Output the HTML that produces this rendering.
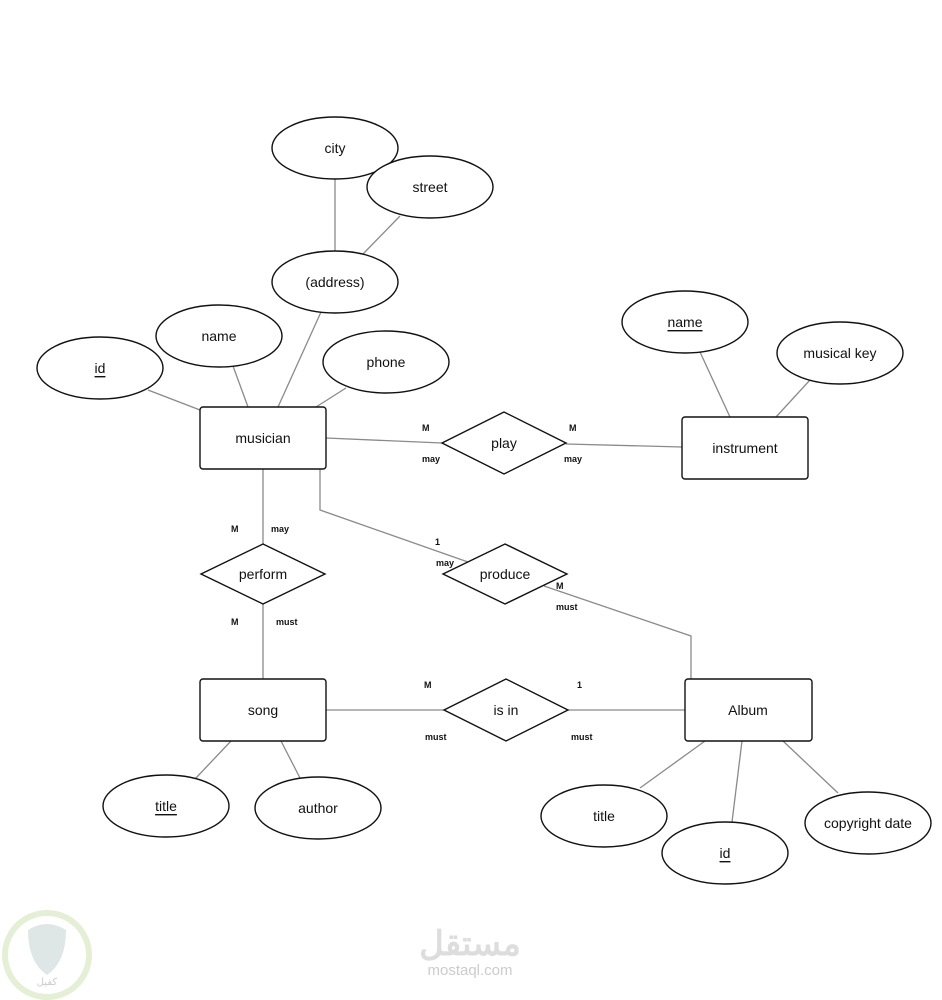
<!DOCTYPE html>
<html><head><meta charset="utf-8"><style>
html,body{margin:0;padding:0;background:#fff;}
svg{display:block;}
text{font-family:"Liberation Sans",Arial,sans-serif;}
.t{font-size:14px;fill:#111;text-anchor:middle;dominant-baseline:central;}
.s{font-size:9px;font-weight:bold;fill:#111;}
.l{stroke:#8a8a8a;stroke-width:1.3;fill:none;}
.e{fill:#fff;stroke:#111;stroke-width:1.4;}
</style></head><body>
<svg width="942" height="1000" viewBox="0 0 942 1000">
<!-- lines -->
<line class="l" x1="335" y1="178" x2="335" y2="252"/>
<line class="l" x1="400" y1="216" x2="363" y2="254"/>
<line class="l" x1="321" y1="312" x2="278" y2="407"/>
<line class="l" x1="233" y1="366" x2="248" y2="407"/>
<line class="l" x1="148" y1="390" x2="200" y2="410"/>
<line class="l" x1="346" y1="388" x2="316" y2="407"/>
<line class="l" x1="326" y1="438" x2="442" y2="443"/>
<line class="l" x1="566" y1="444" x2="682" y2="447"/>
<line class="l" x1="700" y1="352" x2="730" y2="417"/>
<line class="l" x1="810" y1="380" x2="776" y2="417"/>
<line class="l" x1="263" y1="469" x2="263" y2="544"/>
<line class="l" x1="263" y1="604" x2="263" y2="679"/>
<polyline class="l" points="320,469 320,510 468,562"/>
<polyline class="l" points="544,586 691,636 691,679"/>
<line class="l" x1="326" y1="710" x2="444" y2="710"/>
<line class="l" x1="568" y1="710" x2="685" y2="710"/>
<line class="l" x1="231" y1="741" x2="195" y2="779"/>
<line class="l" x1="281" y1="741" x2="300" y2="778"/>
<line class="l" x1="705" y1="741" x2="640" y2="788"/>
<line class="l" x1="742" y1="741" x2="732" y2="822"/>
<line class="l" x1="783" y1="741" x2="838" y2="793"/>
<!-- ellipses -->
<ellipse class="e" cx="335" cy="148" rx="63" ry="31"/><text class="t" x="335" y="148">city</text>
<ellipse class="e" cx="430" cy="187" rx="63" ry="31"/><text class="t" x="430" y="187">street</text>
<ellipse class="e" cx="335" cy="282" rx="63" ry="31"/><text class="t" x="335" y="282">(address)</text>
<ellipse class="e" cx="219" cy="336" rx="63" ry="31"/><text class="t" x="219" y="336">name</text>
<ellipse class="e" cx="100" cy="368" rx="63" ry="31"/><text class="t" x="100" y="368" text-decoration="underline">id</text>
<ellipse class="e" cx="386" cy="362" rx="63" ry="31"/><text class="t" x="386" y="362">phone</text>
<ellipse class="e" cx="685" cy="322" rx="63" ry="31"/><text class="t" x="685" y="322" text-decoration="underline">name</text>
<ellipse class="e" cx="840" cy="353" rx="63" ry="31"/><text class="t" x="840" y="353">musical key</text>
<ellipse class="e" cx="166" cy="806" rx="63" ry="31"/><text class="t" x="166" y="806" text-decoration="underline">title</text>
<ellipse class="e" cx="318" cy="808" rx="63" ry="31"/><text class="t" x="318" y="808">author</text>
<ellipse class="e" cx="604" cy="816" rx="63" ry="31"/><text class="t" x="604" y="816">title</text>
<ellipse class="e" cx="725" cy="853" rx="63" ry="31"/><text class="t" x="725" y="853" text-decoration="underline">id</text>
<ellipse class="e" cx="868" cy="823" rx="63" ry="31"/><text class="t" x="868" y="823">copyright date</text>
<!-- entities -->
<rect class="e" x="200" y="407" width="126" height="62" rx="3"/><text class="t" x="263" y="438">musician</text>
<rect class="e" x="682" y="417" width="126" height="62" rx="3"/><text class="t" x="745" y="448">instrument</text>
<rect class="e" x="200" y="679" width="126" height="62" rx="3"/><text class="t" x="263" y="710">song</text>
<rect class="e" x="685" y="679" width="127" height="62" rx="3"/><text class="t" x="748" y="710">Album</text>
<!-- diamonds -->
<polygon class="e" points="442,443 504,412 566,443 504,474"/><text class="t" x="504" y="443">play</text>
<polygon class="e" points="201,574 263,544 325,574 263,604"/><text class="t" x="263" y="574">perform</text>
<polygon class="e" points="443,574 505,544 567,574 505,604"/><text class="t" x="505" y="574">produce</text>
<polygon class="e" points="444,710 506,679 568,710 506,741"/><text class="t" x="506" y="710">is in</text>
<!-- cardinality labels -->
<text class="s" x="422" y="431">M</text><text class="s" x="422" y="462">may</text>
<text class="s" x="569" y="431">M</text><text class="s" x="564" y="462">may</text>
<text class="s" x="231" y="532">M</text><text class="s" x="271" y="532">may</text>
<text class="s" x="231" y="625">M</text><text class="s" x="276" y="625">must</text>
<text class="s" x="435" y="545">1</text><text class="s" x="436" y="566">may</text>
<text class="s" x="556" y="589">M</text><text class="s" x="556" y="610">must</text>
<text class="s" x="424" y="688">M</text><text class="s" x="425" y="740">must</text>
<text class="s" x="577" y="688">1</text><text class="s" x="571" y="740">must</text>
<!-- watermarks -->
<circle cx="47" cy="955" r="42" fill="none" stroke="#e4efd6" stroke-width="6"/>
<path d="M28 930 Q47 918 66 930 Q66 962 47 975 Q28 962 28 930Z" fill="#dfe6e6"/>
<text x="47" y="985" font-size="10" fill="#ccc" text-anchor="middle" font-family="'Liberation Sans','DejaVu Sans',sans-serif">كفيل</text>
<text x="470" y="955" font-size="34" font-weight="bold" fill="#ddd" text-anchor="middle" font-family="'DejaVu Sans',sans-serif">مستقل</text>
<text x="470" y="975" font-size="15" fill="#ccc" text-anchor="middle">mostaql.com</text>
</svg>
</body></html>
